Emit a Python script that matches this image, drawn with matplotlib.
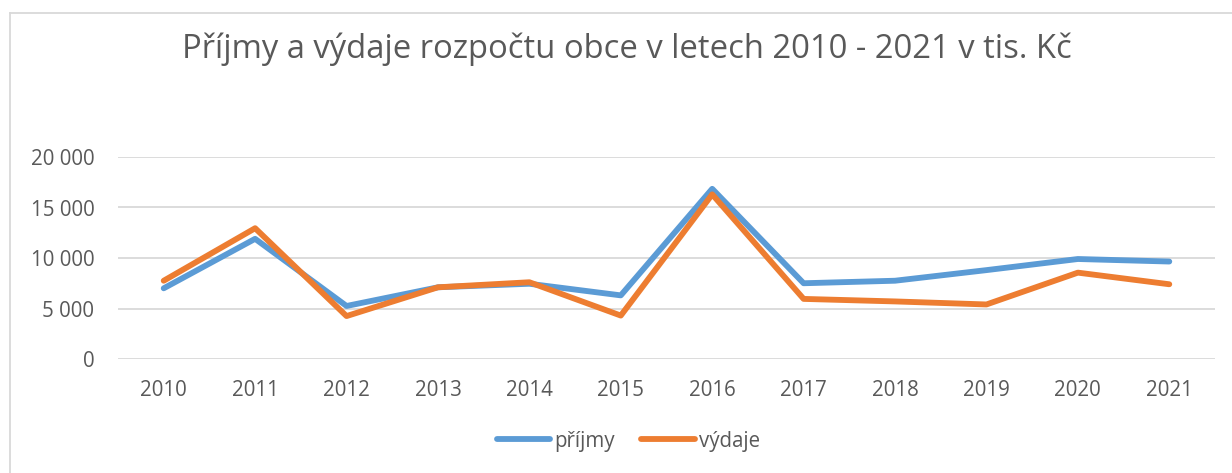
import matplotlib.pyplot as plt
from matplotlib.lines import Line2D

roky = ['2010', '2011', '2012', '2013', '2014', '2015',
        '2016', '2017', '2018', '2019', '2020', '2021']
prijmy = [7000, 11900, 5250, 7100, 7450, 6300, 16850, 7500, 7750, 8800, 9900, 9650]
vydaje = [7750, 12950, 4250, 7100, 7600, 4300, 16300, 5950, 5700, 5400, 8550, 7400]
y_ticks = [0, 5000, 10000, 15000, 20000]

seda = '#595959'
plt.rcParams['font.family'] = ['Open Sans', 'DejaVu Sans']

fig = plt.figure(figsize=(12.32, 4.73), dpi=100)
ax = fig.add_axes([118/1232, 1 - 359/473, (1215 - 118)/1232, (359 - 157)/473])

x = range(len(roky))
ax.plot(x, prijmy, color='#5B9BD5', lw=4.2, solid_capstyle='round', solid_joinstyle='round', label='příjmy')
ax.plot(x, vydaje, color='#ED7D31', lw=4.2, solid_capstyle='round', solid_joinstyle='round', label='výdaje')

ax.set_xlim(-0.5, 11.5)
ax.set_ylim(0, 20000)
ax.set_xticks(list(x))
ax.set_xticklabels(roky)
ax.set_yticks(y_ticks)
ax.set_yticklabels([f'{v:,}'.replace(',', ' ') for v in y_ticks])
ax.tick_params(length=0, labelsize=14.8, colors=seda)
ax.tick_params(axis='y', pad=17)
ax.tick_params(axis='x', pad=15)
ax.grid(axis='y', color='#d9d9d9', lw=1.3)
ax.set_axisbelow(True)
for s in ax.spines.values():
    s.set_visible(False)

fig.text(0.509, 1 - 49/473, 'Příjmy a výdaje rozpočtu obce v letech 2010 - 2021 v tis. Kč',
         ha='center', va='center', fontsize=23.6, color=seda)

fig.legend(loc='center', bbox_to_anchor=(0.51, 1 - 441/473), ncol=2, frameon=False,
           fontsize=14.8, labelcolor=seda, handlelength=2.6, handletextpad=0.2, columnspacing=1.3)

# ramecek grafu
fig.add_artist(Line2D([10/1232, 10/1232], [0, 1 - 13/473], color='#d9d9d9', lw=1.3))
fig.add_artist(Line2D([10/1232, 1], [1 - 13/473, 1 - 13/473], color='#d9d9d9', lw=1.3))

fig.savefig('out.png', dpi=100, facecolor='white')
